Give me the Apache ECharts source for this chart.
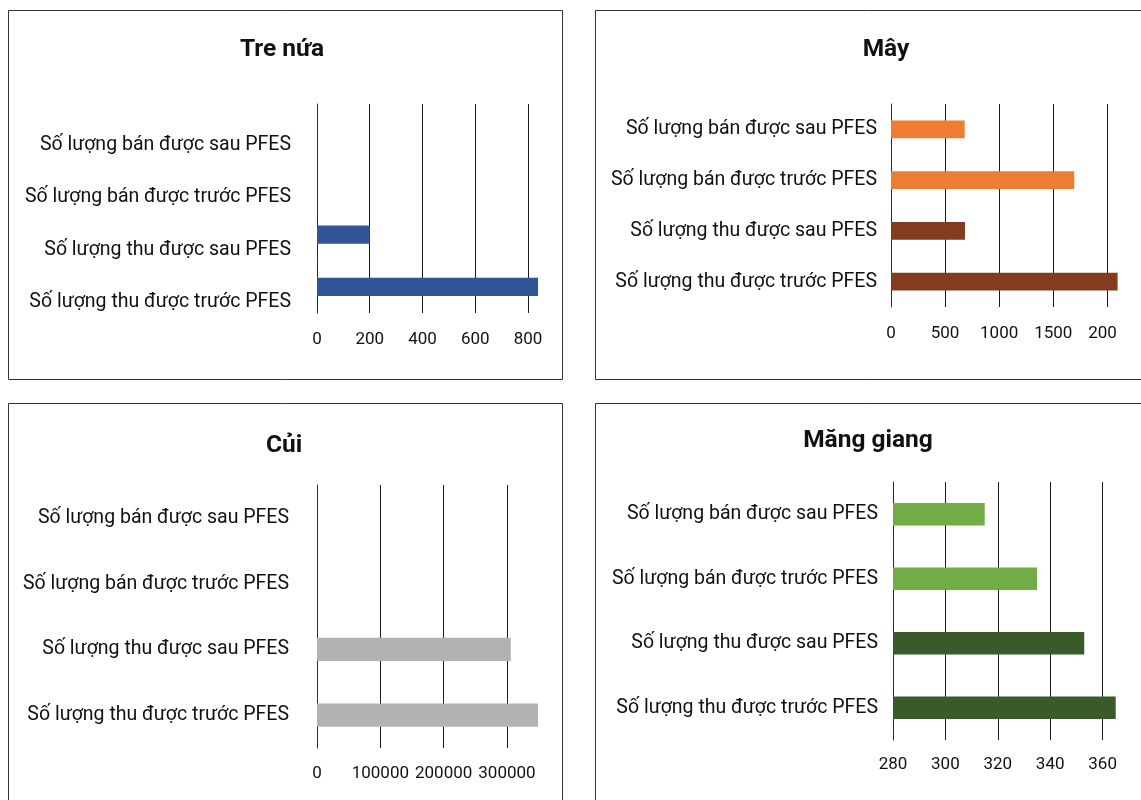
<!DOCTYPE html>
<html>
<head>
<meta charset="utf-8">
<script src="https://cdn.jsdelivr.net/npm/echarts@6/dist/echarts.min.js"></script>
<style>
  html, body { margin: 0; padding: 0; background: #fff; }
  #chart { width: 1141px; height: 800px; }
</style>
</head>
<body>
<div id="chart"></div>
<script>
// Categories, listed bottom to top on each panel
const categories = [
  'Số lượng thu được trước PFES',
  'Số lượng thu được sau PFES',
  'Số lượng bán được trước PFES',
  'Số lượng bán được sau PFES'
];

// Quantities per product
const treNuaValues = [838, 200, null, null];
const mayValues = [2095, 684, 1694, 681];
const cuiValues = [349000, 306000, null, null];
const mangGiangValues = [365, 353, 335, 315];

// Axis scales (min and step of the value ticks)
const treNuaScale = [0, 200];
const mayScale = [0, 500];
const cuiScale = [0, 100000];
const mangGiangScale = [280, 20];

// Bar colours per category
const treNuaColors = ['#2F5597', '#2F5597', '#2F5597', '#2F5597'];
const mayColors = ['#843C1F', '#843C1F', '#ED7D31', '#ED7D31'];
const cuiColors = ['#B1B2B4', '#B1B2B4', '#B1B2B4', '#B1B2B4'];
const mangGiangColors = ['#3B5A2A', '#3B5A2A', '#70AD47', '#70AD47'];

const FONT = 'Roboto, "Noto Sans", sans-serif';

const panels = [
  { title: 'Tre nứa', values: treNuaValues, scale: treNuaScale, colors: treNuaColors,
    grid: { left: 317, top: 104, width: 221, height: 209 },
    catMargin: 26, catShift: true, valMargin: 18, titlePos: [282, 50] },
  { title: 'Mây', values: mayValues, scale: mayScale, colors: mayColors,
    grid: { left: 891, top: 104, width: 226.6, height: 203 },
    catMargin: 14, catShift: false, valMargin: 18.5, titlePos: [886, 50] },
  { title: 'Củi', values: cuiValues, scale: cuiScale, colors: cuiColors,
    grid: { left: 317, top: 485, width: 221, height: 263 },
    catMargin: 28, catShift: false, valMargin: 17, titlePos: [284, 446] },
  { title: 'Măng giang', values: mangGiangValues, scale: mangGiangScale, colors: mangGiangColors,
    grid: { left: 893, top: 482, width: 222.7, height: 258 },
    catMargin: 15, catShift: false, valMargin: 16.5, titlePos: [868, 441] }
];

const chart = echarts.init(document.getElementById('chart'), null, { renderer: 'canvas' });

const grids = [], xAxes = [], yAxes = [], series = [], graphics = [];

panels.forEach((p, i) => {
  grids.push(Object.assign({ containLabel: false, outerBoundsMode: 'none', show: false }, p.grid));

  xAxes.push({
    type: 'value',
    gridIndex: i,
    min: p.scale[0],
    max: 'dataMax',
    interval: p.scale[1],
    axisLine: { show: false },
    axisTick: { show: false },
    splitLine: { show: true, showMinLine: true, showMaxLine: false,
                 lineStyle: { color: '#1a1a1a', width: 1, type: 'solid' } },
    axisLabel: { show: true, color: '#111', fontFamily: FONT, fontSize: 17,
                 margin: p.valMargin, showMaxLabel: false, showMinLabel: true, hideOverlap: false,
                 formatter: v => String(v) }
  });

  const catLabel = { color: '#111', fontFamily: FONT, fontSize: 19.5, margin: p.catMargin,
                     interval: 0, hideOverlap: false };
  if (p.catShift) {
    // labels on this panel sit lower than their bars
    catLabel.verticalAlign = 'top';
    catLabel.lineHeight = 30;
  }

  yAxes.push({
    type: 'category',
    gridIndex: i,
    data: categories,
    axisLine: { show: true, onZero: false, lineStyle: { color: '#2a2a2a', width: 1 } },
    axisTick: { show: false },
    splitLine: { show: false },
    axisLabel: catLabel
  });

  series.push({
    type: 'bar',
    xAxisIndex: i,
    yAxisIndex: i,
    barWidth: '35%',
    silent: true,
    animation: false,
    data: p.values.map((v, k) => ({ value: v, itemStyle: { color: p.colors[k] } }))
  });

  graphics.push({
    type: 'text',
    x: p.titlePos[0],
    y: p.titlePos[1],
    z: 50,
    style: { text: p.title, fill: '#111', font: 'bold 24.5px ' + FONT,
             textAlign: 'center', textVerticalAlign: 'middle' }
  });
});

// Panel frames
const frames = [
  { x: 8.5, y: 10.5, width: 554, height: 369 },
  { x: 595.5, y: 10.5, width: 700, height: 369 },
  { x: 8.5, y: 403.5, width: 554, height: 500 },
  { x: 595.5, y: 403.5, width: 700, height: 500 }
];
frames.forEach(f => {
  graphics.push({ type: 'rect', z: 40, shape: f,
                  style: { fill: null, stroke: '#333', lineWidth: 1 } });
});

// The Mây plot area is cut off at its right edge, clipping the last tick label
graphics.push({ type: 'rect', z: 60, shape: { x: 1117.6, y: 318, width: 30, height: 34 },
                style: { fill: '#fff', stroke: null } });

chart.setOption({
  animation: false,
  backgroundColor: '#fff',
  grid: grids,
  xAxis: xAxes,
  yAxis: yAxes,
  series: series,
  graphic: { elements: graphics }
});
</script>
</body>
</html>
